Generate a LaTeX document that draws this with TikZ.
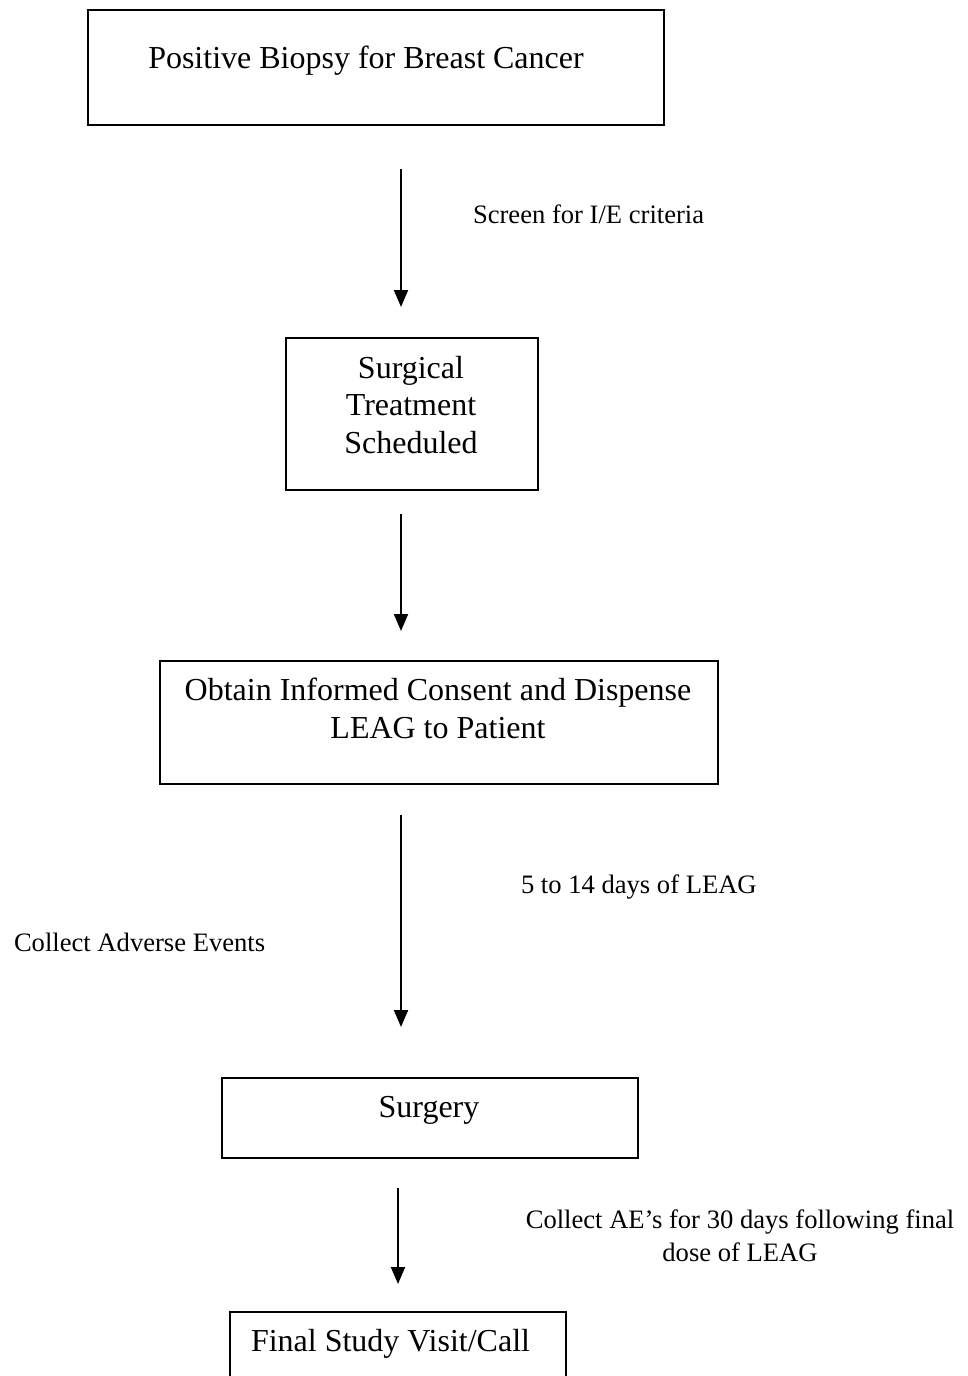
\documentclass[tikz,border=0pt]{standalone}
\usepackage{fontspec}
\setmainfont{Liberation Serif}
\usetikzlibrary{arrows.meta,calc,positioning}
\tikzset{
  box/.style     = {draw, rectangle, line width=2pt, inner sep=0pt, anchor=north west},
  boxtext/.style = {font=\fontsize{32}{37.5}\selectfont, align=center, anchor=base, inner sep=0pt},
  note/.style    = {font=\fontsize{26.6}{33}\selectfont, align=center, anchor=base, inner sep=0pt}
}

\begin{document}
\begin{tikzpicture}[
  x=1pt, y=-1pt,
  line width=2pt,
  >={Triangle[width=14pt,length=17pt]}]

\useasboundingbox (0,0) rectangle (967,1376);

% the boxes of the flow, top to bottom
\node[box, minimum width=576pt, minimum height=115pt] (biopsy)  at (87,9)    {};
\node[box, minimum width=252pt, minimum height=152pt] (sched)   at (285,337)  {};
\node[box, minimum width=558pt, minimum height=123pt] (consent) at (159,660)  {};
\node[box, minimum width=416pt, minimum height=80pt]  (surgery) at (221,1077) {};
\node[box, minimum width=336pt, minimum height=110pt] (final)   at (229,1311) {};

% the text in each box, set at its top (base = last line)
\node[boxtext] (biopsytxt)  at (366,68)   {Positive Biopsy for Breast Cancer};
\node[boxtext] (schedtxt)   at (411,453)  {Surgical\\Treatment\\Scheduled};
\node[boxtext] (consenttxt) at (438,738)  {Obtain Informed Consent and Dispense\\LEAG to Patient};
\node[boxtext] (surgerytxt) at (429,1117) {Surgery};
\node[boxtext, anchor=base west] (finaltxt) at (250,1351) {Final Study Visit/Call};

% notes beside the arrows
\node[note, anchor=base west] (screen)  at (472,223)  {Screen for I/E criteria};
\node[note, anchor=base west] (days)    at (520,893)  {5 to 14 days of LEAG};
\node[note, anchor=base west] (adverse) at (13,951)   {Collect Adverse Events};
\node[note] (collectae) at (740,1261) {Collect AE’s for 30 days following final\\dose of LEAG};

% arrows between the boxes
\draw[->] ($(biopsy.south)+(25,43)$)   -- ($(sched.north)+(-11,-30)$);
\draw[->] ($(sched.south)+(-11,23)$)   -- ($(consent.north)+(-38,-29)$);
\draw[->] ($(consent.south)+(-38,30)$) -- ($(surgery.north)+(-29,-50)$);
\draw[->] ($(surgery.south)+(-32,29)$) -- ($(final.north)+(0,-27)$);
\end{tikzpicture}
\end{document}
